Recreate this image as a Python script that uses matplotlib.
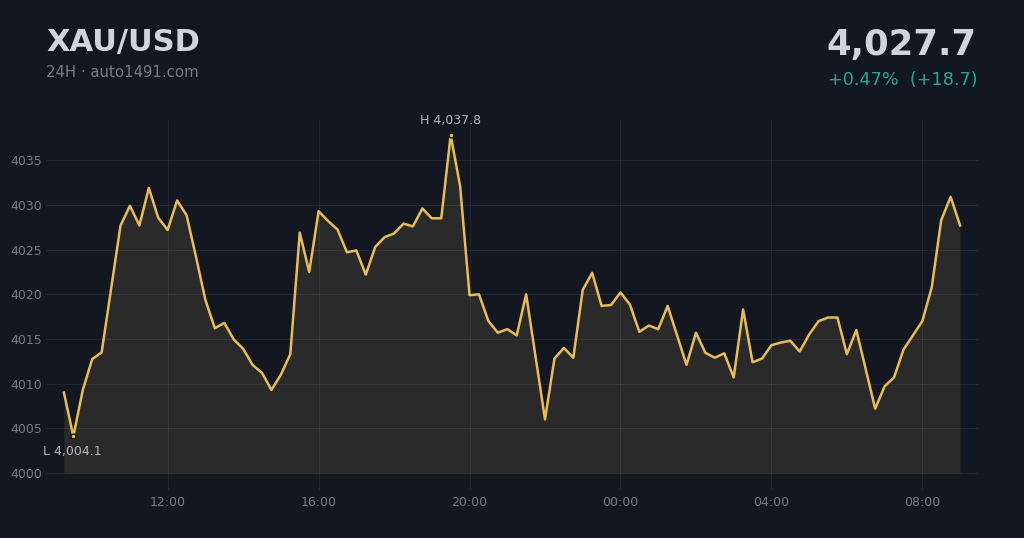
import matplotlib
matplotlib.use("Agg")
import matplotlib.pyplot as plt
import numpy as np

plt.rcParams["font.family"] = ["DejaVu Sans"]

# ---- data ----
start_hour = 9.25          # 09:15
step_hours = 0.25          # 15-minute bars
prices = [
    4009.0, 4004.1, 4009.3, 4012.75, 4013.5, 4020.6, 4027.7, 4029.9, 4027.7, 4031.9,
    4028.55, 4027.2, 4030.5, 4028.85, 4024.2, 4019.35, 4016.2, 4016.8, 4014.95, 4013.9,
    4012.1, 4011.2, 4009.3, 4011.0, 4013.3, 4026.9, 4022.5, 4029.3, 4028.2, 4027.25,
    4024.7, 4024.9, 4022.2, 4025.3, 4026.4, 4026.8, 4027.9, 4027.6, 4029.6, 4028.5,
    4028.5, 4037.8, 4032.1, 4019.9, 4020.0, 4017.0, 4015.7, 4016.1, 4015.4, 4020.0,
    4013.0, 4006.0, 4012.8, 4014.0, 4012.9, 4020.5, 4022.4, 4018.7, 4018.8, 4020.2,
    4018.85, 4015.8, 4016.5, 4016.1, 4018.7, 4015.4, 4012.1, 4015.7, 4013.45, 4012.9,
    4013.4, 4010.7, 4018.3, 4012.4, 4012.8, 4014.3, 4014.6, 4014.8, 4013.6, 4015.5,
    4017.0, 4017.4, 4017.4, 4013.3, 4016.0, 4011.6, 4007.2, 4009.7, 4010.7, 4013.8,
    4015.4, 4017.0, 4020.8, 4028.3, 4030.9, 4027.7,
]
xtick_hours = [12, 16, 20, 24, 28, 32]
xtick_labels = ["12:00", "16:00", "20:00", "00:00", "04:00", "08:00"]
ytick_values = [4000, 4005, 4010, 4015, 4020, 4025, 4030, 4035]
symbol = "XAU/USD"
subtitle = "24H · auto1491.com"

# ---- style ----
BG = "#131722"
LINE = "#e8bd58"
FILL = "#2a2a2a"
TXT = "#d1d4dc"
MUTED = "#787b86"
GREEN = "#26a69a"

hours = start_hour + step_hours * np.arange(len(prices))
p = np.array(prices)
last = p[-1]
change = last - p[0]
pct = change / p[0] * 100

fig = plt.figure(figsize=(10.24, 5.38), dpi=100, facecolor=BG)
ax = fig.add_axes([46/1024, 1 - 490/538, (978 - 46)/1024, (490 - 120)/538])
ax.set_facecolor(BG)

ax.fill_between(hours, p, 4000, color=FILL, lw=0, zorder=1)
ax.plot(hours, p, color=LINE, lw=1.8, zorder=3, solid_joinstyle="round")

span = hours[-1] - hours[0]
ax.set_xlim(hours[0] - 0.02 * span, hours[-1] + 0.02 * span)
ax.set_ylim(3998.1, 4039.5)

ax.set_xticks(xtick_hours)
ax.set_xticklabels(xtick_labels)
ax.set_yticks(ytick_values)
ax.set_yticklabels([str(v) for v in ytick_values])
ax.tick_params(axis="both", length=0, colors=MUTED, labelsize=9)
ax.tick_params(axis="y", pad=3)
ax.tick_params(axis="x", pad=4)
for s in ax.spines.values():
    s.set_visible(False)
ax.set_axisbelow(False)
ax.grid(True, color="white", alpha=0.065, lw=0.8, zorder=2)

# high / low markers
ih = int(np.argmax(p)); il = int(np.argmin(p))
for i in (ih, il):
    ax.plot(hours[i], p[i], "o", ms=3.5, color=LINE, mec=BG, mew=1.0, zorder=4)
ax.annotate(f"H {p[ih]:,.1f}", (hours[ih], p[ih]), xytext=(0, 6), textcoords="offset points",
            ha="center", va="bottom", color="#b2b5be", fontsize=9)
ax.annotate(f"L {p[il]:,.1f}", (hours[il], p[il]), xytext=(-1, -6), textcoords="offset points",
            ha="center", va="top", color="#b2b5be", fontsize=9)

# header
fig.text(46/1024, 1 - 42/538, symbol, color=TXT, fontsize=22, fontweight="bold", va="center", ha="left")
fig.text(46/1024, 1 - 73/538, subtitle, color=MUTED, fontsize=10.7, va="center", ha="left")
fig.text(977/1024, 1 - 45/538, f"{last:,.1f}", color=TXT, fontsize=25.5, fontweight="bold", va="center", ha="right")
sign = "+" if change >= 0 else "-"
fig.text(977/1024, 1 - 80/538, f"{sign}{abs(pct):.2f}%  ({sign}{abs(change):.1f})", color=GREEN,
         fontsize=12.7, va="center", ha="right")

fig.savefig("out.png", dpi=100, facecolor=BG)
